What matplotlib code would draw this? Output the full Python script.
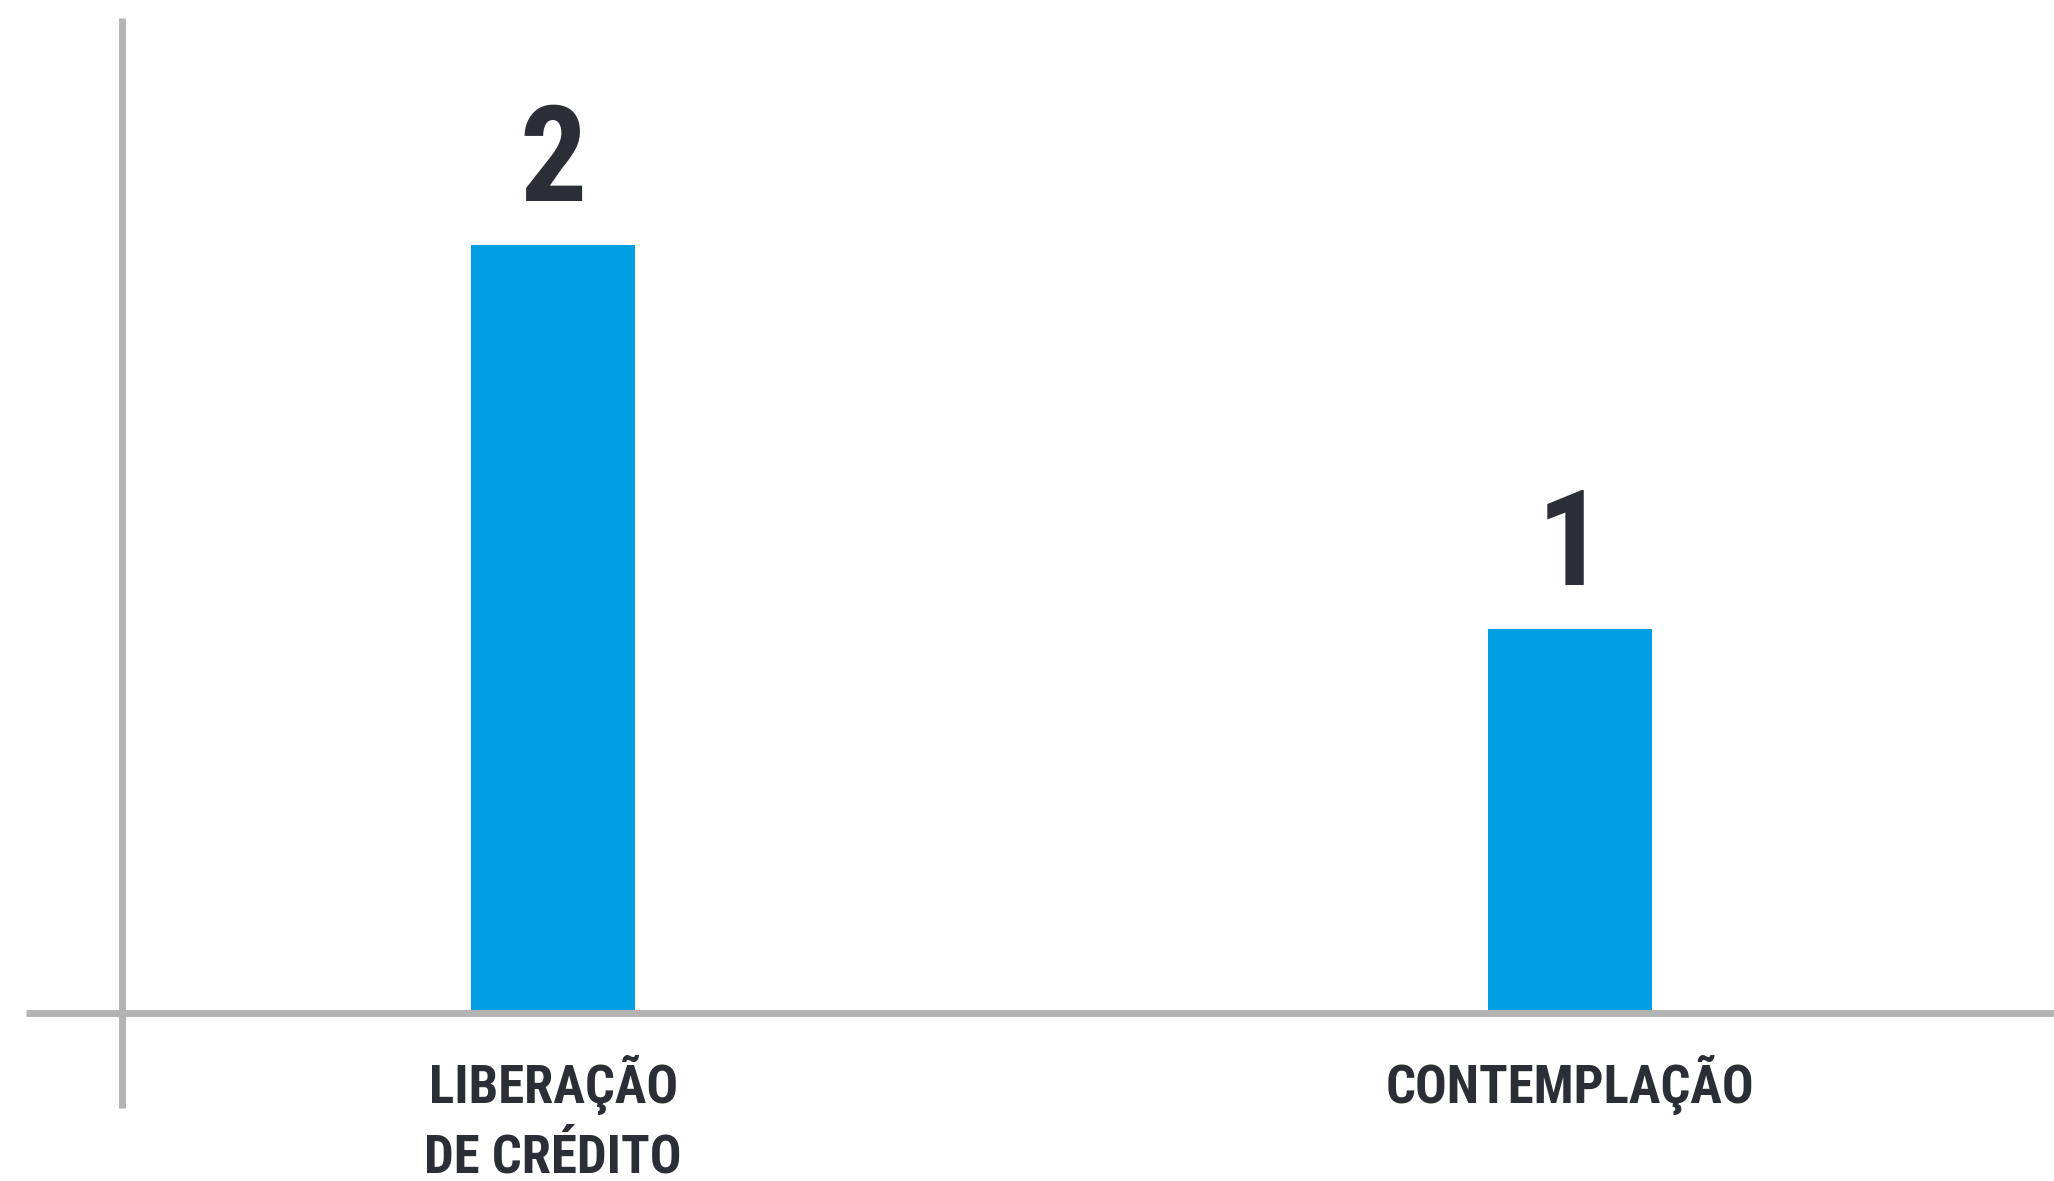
import matplotlib
matplotlib.use("Agg")
import matplotlib.pyplot as plt

categories = ["LIBERAÇÃO\nDE CRÉDITO", "CONTEMPLAÇÃO"]
values = [2, 1]

bar_color = "#009FE3"
text_color = "#2B2E36"
axis_color = "#B3B3B3"
fonts = ["Roboto Condensed", "Liberation Sans Narrow", "DejaVu Sans"]

fig = plt.figure(figsize=(20.54, 11.81), dpi=100)
ax = fig.add_axes([0, 0, 1, 1])

x = list(range(len(categories)))
ax.bar(x, values, width=0.161, color=bar_color, zorder=2)

for xi, v in zip(x, values):
    ax.text(xi, v + 0.115, str(v), ha="center", va="baseline",
            fontsize=96, fontweight="bold", fontstretch="condensed",
            color=text_color, family=fonts)

ax.set_xlim(-0.544, 1.476)
ax.set_ylim(-0.4375, 2.638)

# axis lines crossing at the origin
for side in ["top", "right"]:
    ax.spines[side].set_visible(False)
ax.spines["bottom"].set_position(("data", 0))
ax.spines["bottom"].set_bounds(-0.518, 1.476)
ax.spines["left"].set_position(("data", -0.424))
ax.spines["left"].set_bounds(-0.247, 2.59)
for side in ["bottom", "left"]:
    ax.spines[side].set_color(axis_color)
    ax.spines[side].set_linewidth(5)
    ax.spines[side].set_capstyle("butt")
    ax.spines[side].set_zorder(3)

ax.set_yticks([])
ax.set_xticks(x)
ax.set_xticklabels(categories, fontsize=38, fontweight="bold", fontstretch="condensed",
                   color=text_color, family=fonts, linespacing=1.45)
ax.tick_params(axis="x", length=0, pad=30)

fig.savefig("out.png", dpi=100)
